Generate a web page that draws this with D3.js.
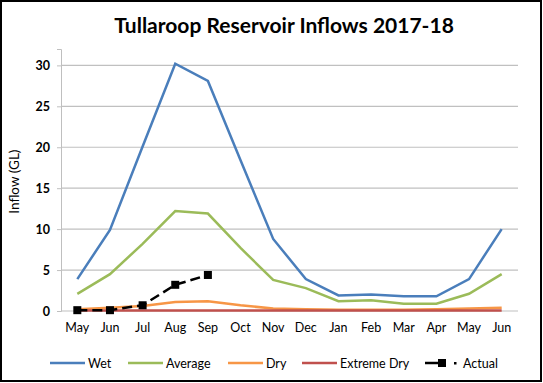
<!DOCTYPE html>
<html>
<head>
<meta charset="utf-8">
<script src="https://cdn.jsdelivr.net/npm/d3@7"></script>
<style>
  body { margin: 0; background: #fff; }
  svg { display: block; font-family: Lato, "Open Sans", sans-serif; }
</style>
</head>
<body>
<div id="chart"></div>
<script>
// months on the x axis (two-year window, May to Jun)
const months = ["May", "Jun", "Jul", "Aug", "Sep", "Oct", "Nov", "Dec", "Jan", "Feb", "Mar", "Apr", "May", "Jun"];
const wet = [3.9, 9.9, 20.1, 30.2, 28.1, 18.4, 8.8, 3.9, 1.9, 2.0, 1.8, 1.8, 3.9, 10.0];
const average = [2.1, 4.5, 8.2, 12.2, 11.9, 7.7, 3.8, 2.8, 1.2, 1.3, 0.9, 0.9, 2.1, 4.5];
const dry = [0.2, 0.4, 0.6, 1.1, 1.2, 0.7, 0.3, 0.2, 0.15, 0.15, 0.15, 0.2, 0.3, 0.4];
const extremeDry = [0.05, 0.05, 0.05, 0.05, 0.05, 0.05, 0.05, 0.05, 0.05, 0.05, 0.05, 0.05, 0.05, 0.05];
const actual = [0.1, 0.1, 0.7, 3.2, 4.4];
const yTicks = [0, 5, 10, 15, 20, 25, 30];

const W = 543, H = 383;
const margin = {top: 49, right: 25, bottom: 72, left: 61};

const series = [
  {name: "Wet", values: wet, color: "#4A7EBB"},
  {name: "Average", values: average, color: "#9BBB59"},
  {name: "Dry", values: dry, color: "#F79646"},
  {name: "Extreme Dry", values: extremeDry, color: "#C0504D"}
];

const svg = d3.select("#chart").append("svg")
  .attr("width", W).attr("height", H);

// outer chart border
svg.append("rect")
  .attr("x", 1).attr("y", 1).attr("width", W - 3).attr("height", H - 3)
  .attr("fill", "#fff").attr("stroke", "#000").attr("stroke-width", 2);

svg.append("text")
  .attr("x", 284).attr("y", 33)
  .attr("text-anchor", "middle")
  .attr("font-size", 21).attr("font-weight", "bold")
  .text("Tullaroop Reservoir Inflows 2017-18");

const x = d3.scaleBand()
  .domain(d3.range(months.length))
  .range([margin.left, W - margin.right]);
const cx = i => x(i) + x.bandwidth() / 2;

const y = d3.scaleLinear()
  .domain([0, 32])
  .range([H - margin.bottom, margin.top]);

// gridlines + y labels
const yAxis = svg.append("g")
  .attr("transform", "translate(" + margin.left + ",0)")
  .call(d3.axisLeft(y).tickValues(yTicks).tickSize(4).tickPadding(7));
yAxis.select(".domain").attr("stroke", "#bfbfbf");
yAxis.selectAll(".tick line").attr("stroke", "#bfbfbf");
yAxis.selectAll(".tick text")
  .attr("font-size", 12.5).attr("font-weight", "bold")
  .attr("font-family", "Lato, sans-serif").attr("fill", "#000");

svg.append("g").selectAll("line")
  .data(yTicks)
  .enter().append("line")
    .attr("x1", margin.left).attr("x2", W - margin.right)
    .attr("y1", d => y(d)).attr("y2", d => y(d))
    .attr("stroke", "#c0c0c0").attr("stroke-width", 1.2);

// x labels
svg.append("g").selectAll("text")
  .data(months)
  .enter().append("text")
    .attr("x", (d, i) => cx(i))
    .attr("y", H - margin.bottom + 21)
    .attr("text-anchor", "middle")
    .attr("font-size", 12.5)
    .text(d => d);

svg.append("text")
  .attr("transform", "translate(19," + y(15.8) + ") rotate(-90)")
  .attr("text-anchor", "middle")
  .attr("font-size", 13.5)
  .text("Inflow (GL)");

const line = d3.line()
  .x((d, i) => cx(i))
  .y(d => y(d));

series.forEach(s => {
  svg.append("path")
    .datum(s.values)
    .attr("fill", "none")
    .attr("stroke", s.color)
    .attr("stroke-width", 2.5)
    .attr("d", line);
});

svg.append("path")
  .datum(actual)
  .attr("fill", "none")
  .attr("stroke", "#000")
  .attr("stroke-width", 2.5)
  .attr("stroke-dasharray", "10,5")
  .attr("d", line);

svg.append("g").selectAll("rect")
  .data(actual)
  .enter().append("rect")
    .attr("x", (d, i) => cx(i) - 4)
    .attr("y", d => y(d) - 4)
    .attr("width", 8).attr("height", 8)
    .attr("fill", "#000");

// legend
const legendY = 363;
const legendPos = [50, 128, 228, 302];
series.forEach((s, i) => {
  const g = svg.append("g").attr("transform", "translate(" + legendPos[i] + "," + legendY + ")");
  g.append("line").attr("x1", 0).attr("x2", 35).attr("y1", 0).attr("y2", 0)
    .attr("stroke", s.color).attr("stroke-width", 2.5);
  g.append("text").attr("x", 38).attr("y", 4.5).attr("font-size", 12.5).text(s.name);
});
const ga = svg.append("g").attr("transform", "translate(425," + legendY + ")");
ga.append("line").attr("x1", 0).attr("x2", 17).attr("y1", 0).attr("y2", 0)
  .attr("stroke", "#000").attr("stroke-width", 2.5);
ga.append("rect").attr("x", 13).attr("y", -4).attr("width", 8).attr("height", 8).attr("fill", "#000");
ga.append("rect").attr("x", 29).attr("y", -1).attr("width", 2.5).attr("height", 2.5).attr("fill", "#000");
ga.append("text").attr("x", 38).attr("y", 4.5).attr("font-size", 12.5).text("Actual");
</script>
</body>
</html>
